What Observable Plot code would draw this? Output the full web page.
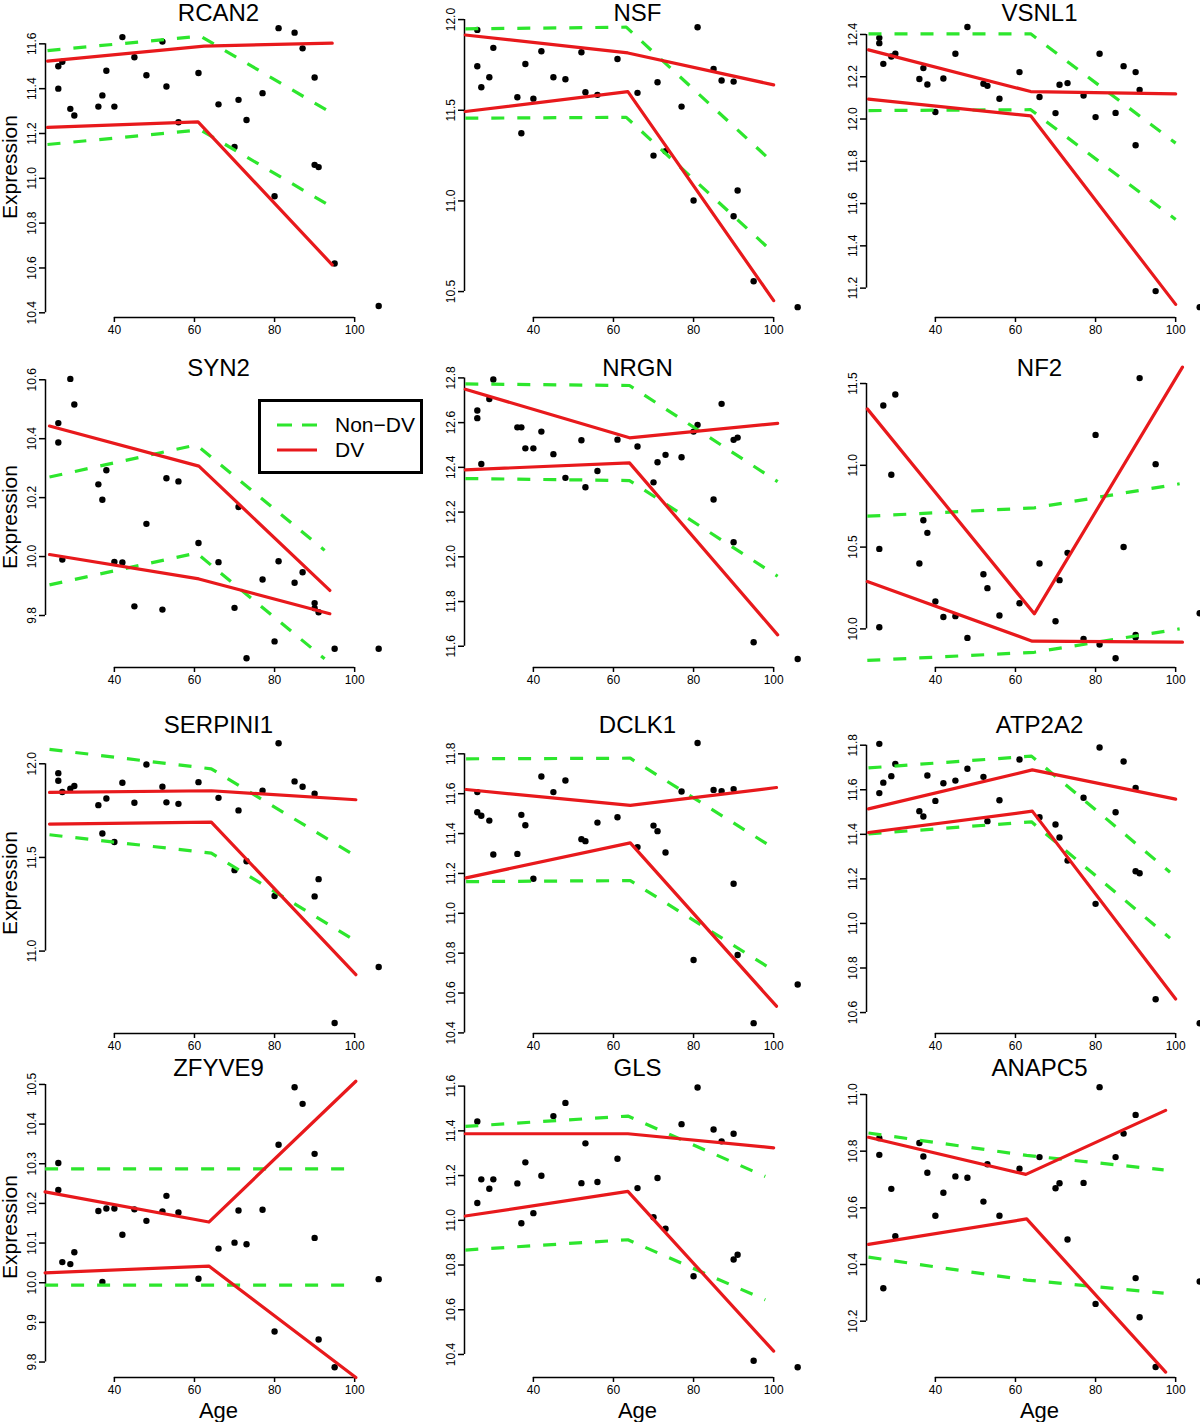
<!DOCTYPE html>
<html>
<head>
<meta charset="utf-8">
<script src="https://cdn.jsdelivr.net/npm/d3@7"></script>
<script src="https://cdn.jsdelivr.net/npm/@observablehq/plot@0.6"></script>
<style>
  html, body { margin: 0; padding: 0; background: #fff; }
  body { width: 1200px; height: 1422px; overflow: hidden; position: relative;
         font-family: "Liberation Sans", Arial, Helvetica, sans-serif; }
  .panel { position: absolute; width: 400px; height: 355px; }
  .panel svg { overflow: visible; max-width: none !important; width: 400px; height: 355px; }
  #legend { position: absolute; left: 258px; top: 399px; width: 159px; height: 69px;
            border: 3px solid #000; background: #fff; }
  #legend svg { position: absolute; left: 0; top: 0; }
</style>
</head>
<body>
<div id="root"></div>
<div id="legend"></div>
<script>
// ---- shared sample ages (years) ----
const ages = [26,26,27,29,30,36,37,38,40,42,45,48,52,53,56,61,66,70,71,73,77,80,81,85,87,90,90,91,95,106];

// ---- expression values per gene (same order as ages) ----
const exprRCAN2 = [11.50,11.40,11.52,11.31,11.28,11.32,11.37,11.48,11.32,11.63,11.54,11.46,11.61,11.41,11.25,11.47,11.33,11.14,11.35,11.26,11.38,10.92,11.67,11.65,11.58,11.45,11.06,11.05,10.62,10.43];
const exprNSF = [11.943,11.743,11.627,11.682,11.844,11.572,11.373,11.755,11.564,11.825,11.682,11.671,11.82,11.599,11.585,11.783,11.596,11.25,11.654,11.274,11.52,11.002,11.958,11.728,11.664,11.658,10.915,11.057,10.557,10.414];
const exprVSNL1 = [12.384,12.359,12.261,12.296,12.309,12.189,12.241,12.163,12.033,12.192,12.309,12.435,12.167,12.157,12.096,12.222,12.104,12.028,12.162,12.170,12.111,12.009,12.309,12.029,12.25,12.222,11.876,12.138,11.186,11.110];
const exprSYN2 = [10.453,10.387,9.99,10.603,10.516,10.245,10.193,10.293,9.982,9.98,9.831,10.111,9.82,10.266,10.255,10.046,9.981,9.826,10.168,9.655,9.922,9.712,9.984,9.911,9.947,9.842,9.825,9.811,9.687,9.687];
const exprNRGN = [12.654,12.62,12.415,12.706,12.793,12.579,12.579,12.485,12.485,12.56,12.459,12.353,12.521,12.311,12.384,12.524,12.493,12.333,12.423,12.456,12.445,12.56,12.59,12.256,12.684,12.523,12.065,12.533,11.618,11.543];
const exprNF2 = [10.489,10.010,11.366,10.942,11.433,10.40,10.664,10.587,10.167,10.073,10.078,9.945,10.334,10.249,10.082,10.157,10.40,10.047,10.298,10.465,9.939,11.186,9.904,9.821,10.501,9.963,9.949,11.533,11.007,10.096];
const exprSERPINI1 = [11.950,11.909,11.849,11.867,11.881,11.779,11.628,11.815,11.582,11.899,11.792,11.996,11.877,11.794,11.786,11.902,11.818,11.432,11.751,11.480,11.856,11.294,12.11,11.906,11.877,11.84,11.292,11.384,10.616,10.915];
const exprDCLK1 = [11.608,11.507,11.489,11.465,11.295,11.298,11.494,11.442,11.173,11.686,11.608,11.666,11.372,11.362,11.455,11.482,11.332,11.44,11.412,11.305,11.611,10.766,11.854,11.619,11.613,11.623,11.148,10.791,10.449,10.643];
const exprATP2A2 = [11.585,11.806,11.632,11.661,11.716,11.504,11.480,11.664,11.55,11.629,11.641,11.694,11.658,11.459,11.553,11.736,11.477,11.444,11.386,11.282,11.564,11.088,11.79,11.499,11.727,11.608,11.234,11.225,10.66,10.552];
const exprZFYVE9 = [10.302,10.234,10.052,10.047,10.077,10.181,10.002,10.187,10.187,10.121,10.185,10.156,10.180,10.219,10.177,10.01,10.086,10.101,10.182,10.097,10.184,9.877,10.348,10.493,10.451,10.325,10.113,9.857,9.787,10.009];
const exprGLS = [11.442,11.077,11.183,11.141,11.183,11.165,10.987,11.259,11.032,11.199,11.466,11.525,11.166,11.344,11.171,11.275,11.144,11.014,11.189,10.962,11.430,10.750,11.594,11.406,11.353,11.387,10.825,10.846,10.372,10.343];
const exprANAPC5 = [10.846,10.787,10.316,10.667,10.5,10.829,10.781,10.724,10.572,10.653,10.711,10.706,10.622,10.754,10.572,10.738,10.779,10.669,10.687,10.488,10.688,10.261,11.026,10.779,10.862,10.928,10.352,10.214,10.038,10.34];

// ---- fitted segmented lines: [age, expression] knots ----
const fitRCAN2 = {
  nonUpper: [[23.3,11.570],[61.5,11.634],[94.4,11.29]],
  nonLower: [[23.3,11.151],[61.5,11.216],[94.4,10.871]],
  dvUpper:  [[23.3,11.523],[62.4,11.59],[94.4,11.603]],
  dvLower:  [[23.3,11.227],[60.9,11.252],[94.4,10.614]]
};
const fitNSF = {
  nonUpper: [[23.0,11.949],[63.2,11.958],[100,11.208]],
  nonLower: [[23.0,11.456],[63.2,11.461],[100,10.713]],
  dvUpper:  [[23.0,11.915],[63.6,11.816],[100,11.64]],
  dvLower:  [[23.0,11.493],[63.6,11.603],[100,10.45]]
};
const fitVSNL1 = {
  nonUpper: [[23.3,12.403],[63.8,12.403],[100,11.886]],
  nonLower: [[23.3,12.04],[63.8,12.044],[100,11.525]],
  dvUpper:  [[23.3,12.327],[63.8,12.13],[100,12.119]],
  dvLower:  [[23.3,12.094],[63.8,12.015],[100,11.123]]
};
const fitSYN2 = {
  nonUpper: [[23.8,10.270],[60.5,10.379],[92.5,10.021]],
  nonLower: [[23.8,9.904],[60.5,10.012],[92.5,9.653]],
  dvUpper:  [[23.8,10.443],[61.1,10.307],[93.8,9.885]],
  dvLower:  [[23.8,10.007],[61.1,9.924],[93.8,9.806]]
};
const fitNRGN = {
  nonUpper: [[23.0,12.773],[64,12.766],[101,12.336]],
  nonLower: [[23.0,12.35],[64,12.341],[101,11.913]],
  dvUpper:  [[23.0,12.749],[64,12.532],[101,12.597]],
  dvLower:  [[23.0,12.389],[64,12.42],[101,11.651]]
};
const fitNF2 = {
  nonUpper: [[23.0,10.689],[64.7,10.74],[101,10.887]],
  nonLower: [[23.0,9.807],[64.7,9.857],[101,10.0]],
  dvUpper:  [[23.0,11.345],[64.7,10.092],[101.7,11.60]],
  dvLower:  [[23.0,10.289],[64.2,9.925],[101.7,9.919]]
};
const fitSERPINI1 = {
  nonUpper: [[23.8,12.077],[64.2,11.973],[100.3,11.507]],
  nonLower: [[23.8,11.621],[64.2,11.523],[100.3,11.053]],
  dvUpper:  [[23.8,11.847],[64.2,11.856],[100.3,11.808]],
  dvLower:  [[23.8,11.678],[64.2,11.689],[100.3,10.874]]
};
const fitDCLK1 = {
  nonUpper: [[23.2,11.775],[64.2,11.778],[100.7,11.318]],
  nonLower: [[23.2,11.159],[64.2,11.164],[100.7,10.704]],
  dvUpper:  [[23.2,11.621],[64.2,11.541],[100.7,11.631]],
  dvLower:  [[23.2,11.178],[64.2,11.353],[100.7,10.534]]
};
const fitATP2A2 = {
  nonUpper: [[23.3,11.698],[64,11.751],[98.6,11.23]],
  nonLower: [[23.3,11.402],[64,11.456],[98.6,10.934]],
  dvUpper:  [[23.3,11.514],[64.2,11.689],[100,11.558]],
  dvLower:  [[23.3,11.408],[64.2,11.504],[100,10.661]]
};
const fitZFYVE9 = {
  nonUpper: [[22.7,10.287],[63.6,10.287],[100.3,10.287]],
  nonLower: [[22.7,9.994],[63.6,9.994],[100.3,9.994]],
  dvUpper:  [[22.7,10.229],[63.6,10.153],[100.3,10.508]],
  dvLower:  [[22.7,10.025],[63.6,10.042],[100.3,9.761]]
};
const fitGLS = {
  nonUpper: [[23.0,11.42],[63.6,11.466],[97.9,11.196]],
  nonLower: [[23.0,10.867],[63.6,10.913],[97.9,10.644]],
  dvUpper:  [[23.0,11.387],[63.6,11.387],[100,11.324]],
  dvLower:  [[23.0,11.019],[63.6,11.129],[100,10.415]]
};
const fitANAPC5 = {
  nonUpper: [[23.3,10.864],[62.8,10.785],[97,10.734]],
  nonLower: [[23.3,10.426],[62.8,10.345],[97,10.299]],
  dvUpper:  [[23.3,10.849],[62.6,10.718],[97.5,10.944]],
  dvLower:  [[23.3,10.471],[62.8,10.561],[97.5,10.02]]
};

// ---- tick labels ----
const xTicks = [40, 60, 80, 100];
const yTicksRCAN2 = [10.4,10.6,10.8,11.0,11.2,11.4,11.6];
const yTicksNSF = [10.5,11.0,11.5,12.0];
const yTicksVSNL1 = [11.2,11.4,11.6,11.8,12.0,12.2,12.4];
const yTicksSYN2 = [9.8,10.0,10.2,10.4,10.6];
const yTicksNRGN = [11.6,11.8,12.0,12.2,12.4,12.6,12.8];
const yTicksNF2 = [10.0,10.5,11.0,11.5];
const yTicksSERPINI1 = [11.0,11.5,12.0];
const yTicksDCLK1 = [10.4,10.6,10.8,11.0,11.2,11.4,11.6,11.8];
const yTicksATP2A2 = [10.6,10.8,11.0,11.2,11.4,11.6,11.8];
const yTicksZFYVE9 = [9.8,9.9,10.0,10.1,10.2,10.3,10.4,10.5];
const yTicksGLS = [10.4,10.6,10.8,11.0,11.2,11.4,11.6];
const yTicksANAPC5 = [10.2,10.4,10.6,10.8,11.0];

// ---- panel list (reading order) with scale domains ----
const panels = [
  {gene: "RCAN2",    expr: exprRCAN2,    fit: fitRCAN2,    yTicks: yTicksRCAN2,    yDomain: [10.379, 11.722]},
  {gene: "NSF",      expr: exprNSF,      fit: fitNSF,      yTicks: yTicksNSF,      yDomain: [10.357, 12.017]},
  {gene: "VSNL1",    expr: exprVSNL1,    fit: fitVSNL1,    yTicks: yTicksVSNL1,    yDomain: [11.061, 12.485]},
  {gene: "SYN2",     expr: exprSYN2,     fit: fitSYN2,     yTicks: yTicksSYN2,     yDomain: [9.6235, 10.645]},
  {gene: "NRGN",     expr: exprNRGN,     fit: fitNRGN,     yTicks: yTicksNRGN,     yDomain: [11.505, 12.851]},
  {gene: "NF2",      expr: exprNF2,      fit: fitNF2,      yTicks: yTicksNF2,      yDomain: [9.764, 11.604]},
  {gene: "SERPINI1", expr: exprSERPINI1, fit: fitSERPINI1, yTicks: yTicksSERPINI1, yDomain: [10.560, 12.167]},
  {gene: "DCLK1",    expr: exprDCLK1,    fit: fitDCLK1,    yTicks: yTicksDCLK1,    yDomain: [10.397, 11.907]},
  {gene: "ATP2A2",   expr: exprATP2A2,   fit: fitATP2A2,   yTicks: yTicksATP2A2,   yDomain: [10.506, 11.857]},
  {gene: "ZFYVE9",   expr: exprZFYVE9,   fit: fitZFYVE9,   yTicks: yTicksZFYVE9,   yDomain: [9.761, 10.520]},
  {gene: "GLS",      expr: exprGLS,      fit: fitGLS,      yTicks: yTicksGLS,      yDomain: [10.297, 11.643]},
  {gene: "ANAPC5",   expr: exprANAPC5,   fit: fitANAPC5,   yTicks: yTicksANAPC5,   yDomain: [10.0012, 11.0635]}
];

const xDomain = [22.8, 109.2];
const colLeft = [0, 419.3, 820.7];
const rowTop = [0, 350, 716, 1060];
const titleDy = [-3, 2, -7, -8];
const RED = "#e8191c";
const GREEN = "#2de62d";
const FONT = "'Liberation Sans', Arial, Helvetica, sans-serif";
const fmt = d3.format(".1f");

const root = document.getElementById("root");

panels.forEach((p, i) => {
  const row = Math.floor(i / 3), col = i % 3;
  const pts = ages.map((a, k) => ({age: a, value: p.expr[k]}));
  const toRows = (keys) => keys.flatMap(key => p.fit[key].map(([a, v]) => ({series: key, age: a, value: v})));
  const nonRows = toRows(["nonUpper", "nonLower"]);
  const dvRows = toRows(["dvUpper", "dvLower"]);

  const marks = [
    Plot.ruleX([xDomain[0]], {y1: p.yTicks[0], y2: p.yTicks[p.yTicks.length - 1], stroke: "#000", strokeWidth: 1.5}),
    Plot.ruleY([p.yDomain[0]], {x1: xTicks[0], x2: xTicks[xTicks.length - 1], stroke: "#000", strokeWidth: 1.5}),
    Plot.axisY({ticks: p.yTicks, tickFormat: fmt, tickRotate: -90, tickSize: 6, tickPadding: 4,
                strokeWidth: 1.5, fontSize: 12, label: null}),
    Plot.axisX({ticks: xTicks, tickSize: 5, tickPadding: 3, strokeWidth: 1.5, fontSize: 12, label: null}),
    Plot.dot(pts, {x: "age", y: "value", r: 3.2, fill: "#000", stroke: null}),
    Plot.line(nonRows, {x: "age", y: "value", z: "series", stroke: GREEN, strokeWidth: 3.2,
                        strokeDasharray: "13,13", strokeLinecap: "butt"}),
    Plot.line(dvRows, {x: "age", y: "value", z: "series", stroke: RED, strokeWidth: 3.2,
                       strokeLinecap: "round", strokeLinejoin: "round"}),
    Plot.text([p.gene], {frameAnchor: "top", dy: titleDy[row], fontSize: 24, lineAnchor: "middle", fill: "#000"})
  ];
  if (col === 0) {
    marks.push(Plot.text(["Expression"], {frameAnchor: "left", dx: -35, rotate: -90, fontSize: 21,
                                          lineAnchor: "middle", textAnchor: "middle", fill: "#000"}));
  }
  if (row === 3) {
    marks.push(Plot.text(["Age"], {frameAnchor: "bottom", dy: 33, fontSize: 22, lineAnchor: "middle", fill: "#000"}));
  }

  const chart = Plot.plot({
    width: 400,
    height: 355,
    marginLeft: 45,
    marginRight: 9,
    marginTop: 16,
    marginBottom: 38,
    x: {domain: xDomain, label: null},
    y: {domain: p.yDomain, label: null},
    style: {fontFamily: FONT, color: "#000", background: "transparent", overflow: "visible"},
    marks
  });
  const wrap = document.createElement("div");
  wrap.className = "panel";
  wrap.style.left = colLeft[col] + "px";
  wrap.style.top = rowTop[row] + "px";
  wrap.appendChild(chart);
  root.appendChild(wrap);
});

// ---- legend (drawn in the SYN2 panel, as in the original) ----
const legendItems = [
  {label: "Non\u2212DV", color: GREEN, dash: "15,10"},
  {label: "DV", color: RED, dash: null}
];
const lg = d3.select("#legend").append("svg").attr("width", 159).attr("height", 69);
legendItems.forEach((it, k) => {
  const y = 23 + k * 25;
  const ln = lg.append("line").attr("x1", 16).attr("x2", 56).attr("y1", y).attr("y2", y)
    .attr("stroke", it.color).attr("stroke-width", 3.2);
  if (it.dash) ln.attr("stroke-dasharray", it.dash);
  lg.append("text").attr("x", 74).attr("y", y).attr("dy", "0.35em")
    .attr("font-family", FONT).attr("font-size", 21).attr("fill", "#000").text(it.label);
});
</script>
</body>
</html>
